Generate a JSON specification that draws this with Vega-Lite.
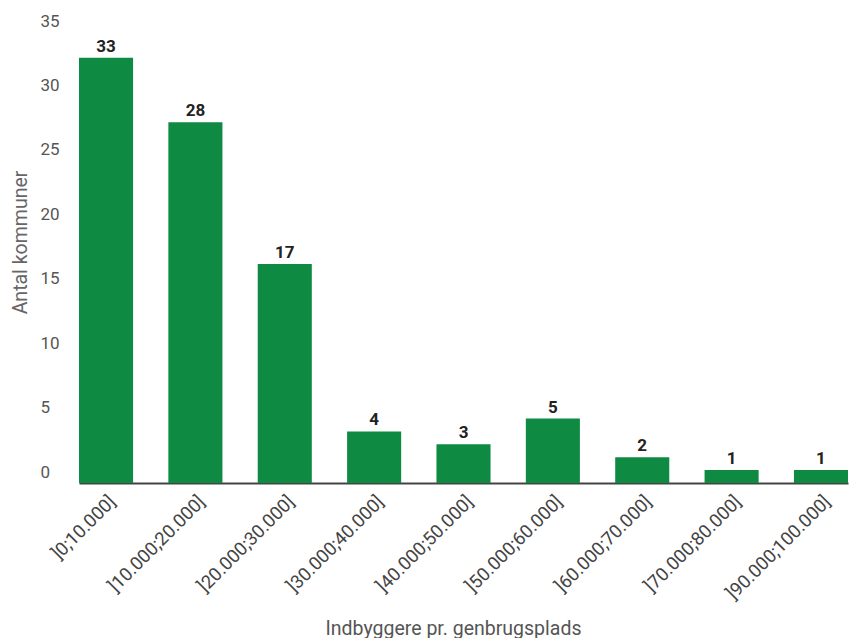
{
  "$schema": "https://vega.github.io/schema/vega-lite/v6.json",
  "autosize": "none",
  "width": 821,
  "height": 451,
  "padding": {"left": 40, "top": 32, "right": 0, "bottom": 155},
  "background": "white",
  "config": {"view": {"stroke": null}, "font": "Roboto"},
  "data": {"values": [
    {"k": "]0;10.000]", "v": 33},
    {"k": "]10.000;20.000]", "v": 28},
    {"k": "]20.000;30.000]", "v": 17},
    {"k": "]30.000;40.000]", "v": 4},
    {"k": "]40.000;50.000]", "v": 3},
    {"k": "]50.000;60.000]", "v": 5},
    {"k": "]60.000;70.000]", "v": 2},
    {"k": "]70.000;80.000]", "v": 1},
    {"k": "]90.000;100.000]", "v": 1}
  ]},
  "encoding": {
    "x": {"field": "k", "type": "nominal", "sort": null,
      "scale": {"paddingInner": 0.395, "paddingOuter": 0, "range": [39, 808]},
      "axis": {"title": "Indbyggere pr. genbrugsplads", "labelAngle": -45, "labelFontSize": 18.5, "labelColor": "#444444",
        "ticks": false, "labelPadding": 9, "domainColor": "#444444", "domainWidth": 2,
        "titleFontSize": 19.5, "titleFontWeight": "normal", "titleColor": "#555555", "titleX": 413, "titleY": 145, "titleBaseline": "middle"}},
    "y": {"field": "v", "type": "quantitative",
      "scale": {"domain": [0, 35]},
      "axis": {"title": "Antal kommuner", "values": [0,5,10,15,20,25,30,35], "grid": false, "domain": false, "ticks": false,
        "labelAlign": "left", "labelPadding": 0, "labelOffset": -6, "labelBaseline": "alphabetic",
        "labelFontSize": 17, "labelColor": "#555555",
        "titleFontSize": 19.5, "titleFontWeight": "normal", "titleColor": "#666666",
        "titleX": -20, "titleY": 210, "titleAngle": -90, "titleAlign": "center", "titleBaseline": "middle"}}
  },
  "layer": [
    {"mark": {"type": "bar", "color": "#0e8a42"}},
    {"mark": {"type": "text", "baseline": "alphabetic", "dy": -6, "fontSize": 17, "fontWeight": "bold", "color": "#222222"},
      "encoding": {"text": {"field": "v", "type": "quantitative"}}}
  ]
}
